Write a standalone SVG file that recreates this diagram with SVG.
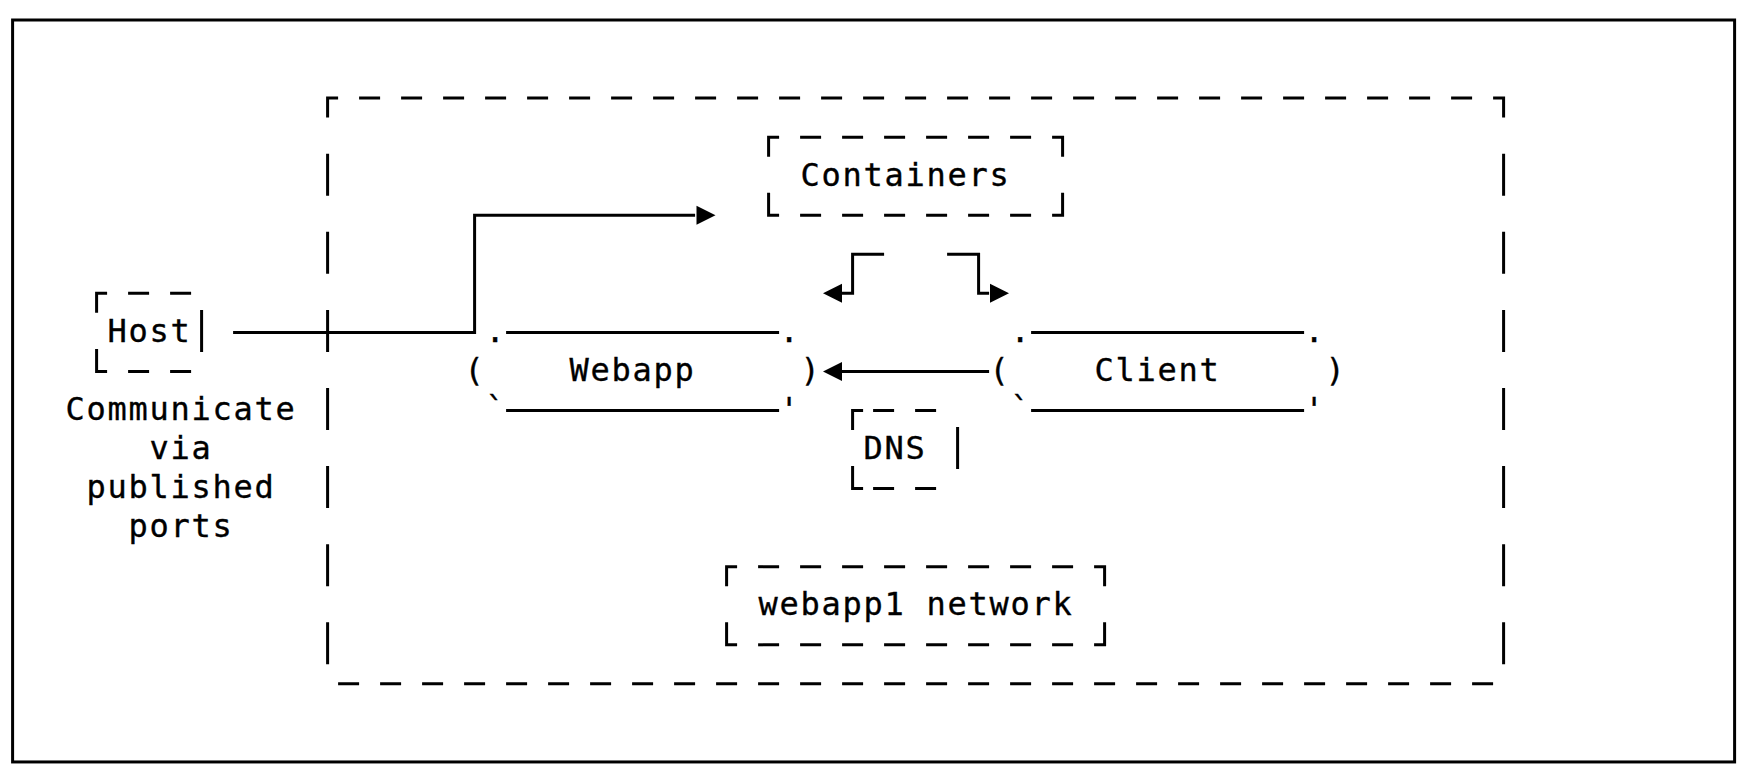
<svg xmlns="http://www.w3.org/2000/svg" xmlns:xlink="http://www.w3.org/1999/xlink" width="1746" height="783" viewBox="0 0 1746 783">
<style>
.t{font-family:"DejaVu Sans Mono","Liberation Mono",monospace;font-size:32px;letter-spacing:1.73px;fill:#000;stroke:#000;stroke-width:0.35px}
.ln{fill:none;stroke:#000;stroke-width:3;stroke-linecap:butt;stroke-linejoin:miter}
.dh{fill:none;stroke:#000;stroke-width:3;stroke-dasharray:21 21}
.dv{fill:none;stroke:#000;stroke-width:3;stroke-dasharray:42 36.1}
.ah{fill:#000}
</style>
<defs>
<polygon id="ahR" class="ah" points="0,-9.5 19,0 0,9.5"/>
<polygon id="ahL" class="ah" points="0,-9.5 -19,0 0,9.5"/>
</defs>
<rect width="1746" height="783" fill="#fff"/>

<g id="frame">
<rect class="ln" x="12.6" y="20" width="1722" height="741.95"/>
</g>

<g id="node-container-area">
<path class="ln" d="M327.6 117.6 V98.1 H338.1 M1493.1 98.1 H1503.6 V117.6"/>
<line class="dh" x1="359.1" y1="98.1" x2="1472.1" y2="98.1"/>
<line class="dv" x1="327.6" y1="153.7" x2="327.6" y2="664.3"/>
<line class="dv" x1="1503.6" y1="153.7" x2="1503.6" y2="664.3"/>
<line class="dh" x1="338.1" y1="683.85" x2="1493.1" y2="683.85"/>
</g>

<g id="node-containers">
<path class="ln" d="M768.6 156.65 V137.15 H779.1 M1052.1 137.15 H1062.6 V156.65 M768.6 192.75 V215.25 H779.1 M1052.1 215.25 H1062.6 V192.75"/>
<line class="dh" x1="800.1" y1="137.15" x2="1031.1" y2="137.15"/>
<line class="dh" x1="800.1" y1="215.25" x2="1031.1" y2="215.25"/>
<text class="t" x="800.6" y="185.5">Containers</text>
</g>

<g id="node-host">
<path class="ln" d="M96.6 312.85 V293.35 H107.1 M96.6 348.95 V371.45 H107.1 M201.6 309.9 V351.9"/>
<line class="dh" x1="128.1" y1="293.35" x2="191.1" y2="293.35"/>
<line class="dh" x1="128.1" y1="371.45" x2="191.1" y2="371.45"/>
<text class="t" x="107.6" y="341.7">Host</text>
</g>

<g id="label-host">
<text class="t" x="65.6" y="419.8">Communicate</text>
<text class="t" x="149.6" y="458.85">via</text>
<text class="t" x="86.6" y="497.9">published</text>
<text class="t" x="128.6" y="536.95">ports</text>
</g>

<g id="node-webapp">
<path class="ln" d="M506.1 332.4 H779.1 M506.1 410.5 H779.1"/>
<text class="t" x="464.6" y="380.75">(</text>
<text class="t" x="485.6" y="341.7">.</text>
<text class="t" x="779.6" y="341.7">.</text>
<text class="t" x="800.6" y="380.75">)</text>
<text class="t" x="485.6" y="419.8">`</text>
<text class="t" x="779.6" y="419.8">'</text>
<text class="t" x="569.6" y="380.75">Webapp</text>
</g>

<g id="node-client">
<path class="ln" d="M1031.1 332.4 H1304.1 M1031.1 410.5 H1304.1"/>
<text class="t" x="989.6" y="380.75">(</text>
<text class="t" x="1010.6" y="341.7">.</text>
<text class="t" x="1304.6" y="341.7">.</text>
<text class="t" x="1325.6" y="380.75">)</text>
<text class="t" x="1010.6" y="419.8">`</text>
<text class="t" x="1304.6" y="419.8">'</text>
<text class="t" x="1094.6" y="380.75">Client</text>
</g>

<g id="node-dns">
<path class="ln" d="M852.6 430 V410.5 H863.1 M852.6 466.1 V488.6 H863.1 M957.6 427.05 V469.05"/>
<line class="dh" x1="873.1" y1="410.5" x2="936.1" y2="410.5"/>
<line class="dh" x1="873.1" y1="488.6" x2="936.1" y2="488.6"/>
<text class="t" x="863.6" y="458.85">DNS</text>
</g>

<g id="node-network">
<path class="ln" d="M726.6 586.2 V566.7 H737.1 M1094.1 566.7 H1104.6 V586.2 M726.6 622.3 V644.8 H737.1 M1094.1 644.8 H1104.6 V622.3"/>
<line class="dh" x1="758.1" y1="566.7" x2="1073.1" y2="566.7"/>
<line class="dh" x1="758.1" y1="644.8" x2="1073.1" y2="644.8"/>
<text class="t" x="758.6" y="615.05">webapp1 network</text>
</g>

<g id="connectors">
<path class="ln" d="M233.1 332.4 H474.6 V215.25 H695.1"/>
<use xlink:href="#ahR" href="#ahR" x="696.5" y="215.25"/>
<path class="ln" d="M841.1 371.45 H989.1"/>
<use xlink:href="#ahL" href="#ahL" x="842" y="371.45"/>
<path class="ln" d="M884.1 254.3 H852.6 V293.35 H841.5"/>
<use xlink:href="#ahL" href="#ahL" x="842" y="293.35"/>
<path class="ln" d="M947.1 254.3 H978.6 V293.35 H989.1"/>
<use xlink:href="#ahR" href="#ahR" x="990" y="293.35"/>
</g>
</svg>
